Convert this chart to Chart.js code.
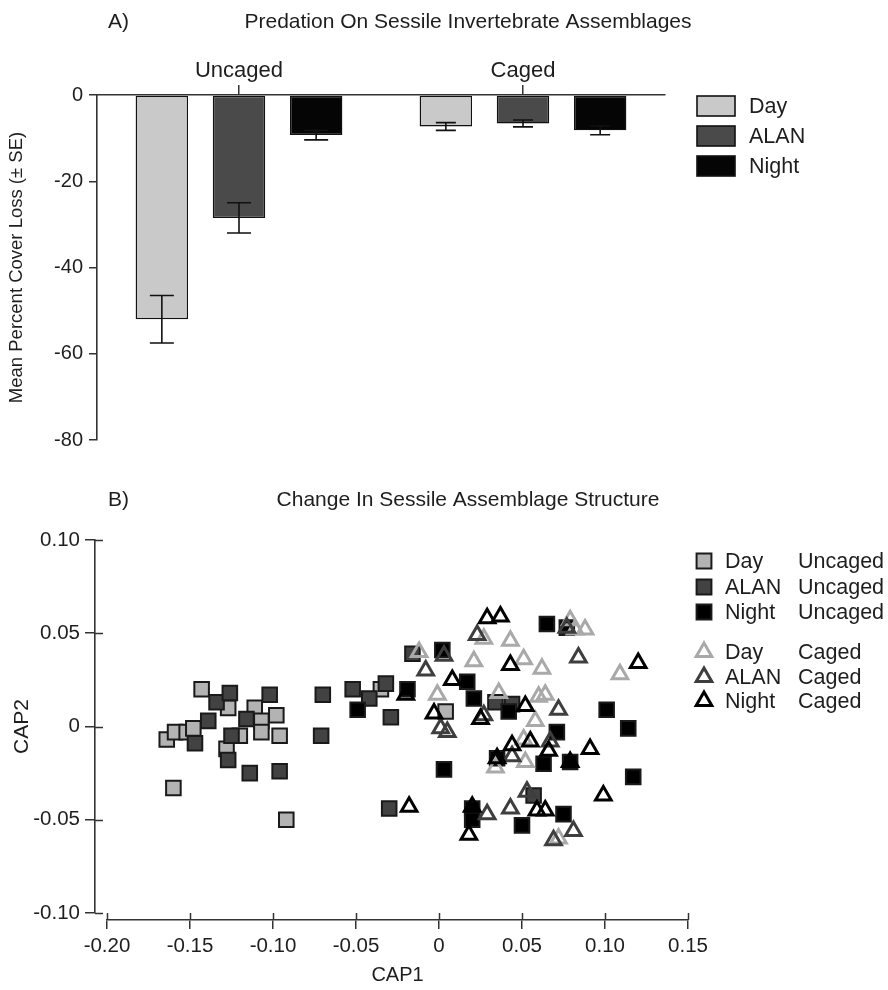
<!DOCTYPE html>
<html>
<head>
<meta charset="utf-8">
<script src="https://cdn.jsdelivr.net/npm/chart.js@4"></script>
<style>
  html, body { margin: 0; padding: 0; background: #fff; }
  #wrap { position: relative; width: 888px; height: 990px; }
  canvas { position: absolute; left: 0; }
  #predation { top: 0; }
  #structure { top: 480px; }
</style>
</head>
<body>
<div id="wrap">
  <canvas id="predation" width="888" height="480"></canvas>
  <canvas id="structure" width="888" height="510"></canvas>
</div>
<script>
// --- 1. Data ---
const treatments = ['Day', 'ALAN', 'Night'];
const cageGroups = ['Uncaged', 'Caged'];

// Panel A: mean percent cover loss and SE, [Uncaged, Caged]
const dayLoss = [-52.0, -7.3];
const alanLoss = [-28.5, -6.6];
const nightLoss = [-9.3, -8.2];
const daySE = [5.5, 0.9];
const alanSE = [3.5, 0.8];
const nightSE = [1.1, 1.0];
const lossTicks = [0, -20, -40, -60, -80];

// Panel B: CAP scores [CAP1, CAP2]
const dayUncaged = [
  [-0.143, 0.020], [-0.164, -0.007], [-0.159, -0.003], [-0.152, -0.003], [-0.148, -0.001],
  [-0.160, -0.033], [-0.127, 0.010], [-0.128, -0.012], [-0.111, 0.010], [-0.107, 0.003],
  [-0.107, -0.003], [-0.120, -0.005], [-0.098, 0.006], [-0.096, -0.005], [-0.092, -0.050],
  [-0.035, 0.020], [0.004, 0.008]
];
const alanUncaged = [
  [-0.134, 0.013], [-0.126, 0.018], [-0.139, 0.003], [-0.147, -0.009], [-0.127, -0.018],
  [-0.125, -0.005], [-0.116, 0.004], [-0.102, 0.017], [-0.114, -0.025], [-0.096, -0.024],
  [-0.070, 0.017], [-0.071, -0.005], [-0.052, 0.020], [-0.042, 0.015], [-0.032, 0.023],
  [-0.029, 0.005], [-0.030, -0.044], [-0.016, 0.039], [0.034, 0.013], [0.044, 0.012],
  [0.057, -0.037]
];
const nightUncaged = [
  [-0.049, 0.009], [-0.019, 0.020], [0.002, 0.041], [0.003, -0.023], [0.017, 0.024],
  [0.021, 0.015], [0.042, 0.008], [0.065, 0.055], [0.077, 0.053], [0.071, -0.003],
  [0.101, 0.009], [0.114, -0.001], [0.035, -0.017], [0.063, -0.020], [0.079, -0.019],
  [0.117, -0.027], [0.020, -0.044], [0.020, -0.050], [0.075, -0.047], [0.050, -0.053]
];
const dayCaged = [
  [-0.012, 0.040], [-0.001, 0.017], [0.027, 0.047], [0.043, 0.046], [0.021, 0.035],
  [0.051, 0.036], [0.062, 0.031], [0.079, 0.057], [0.082, 0.052], [0.088, 0.052],
  [0.109, 0.028], [0.036, 0.018], [0.060, 0.016], [0.064, 0.017], [0.058, 0.003],
  [0.051, -0.007], [0.034, -0.022], [0.052, -0.019], [0.072, -0.060]
];
const alanCaged = [
  [-0.008, 0.030], [0.003, 0.038], [0.023, 0.049], [0.084, 0.037], [0.001, -0.001],
  [0.005, -0.003], [0.027, 0.006], [0.072, 0.009], [0.067, -0.008], [0.044, -0.016],
  [0.077, 0.053], [0.053, -0.035], [0.043, -0.044], [0.029, -0.047], [0.069, -0.061],
  [0.081, -0.056]
];
const nightCaged = [
  [-0.018, -0.043], [-0.020, 0.017], [-0.003, 0.007], [0.029, 0.058], [0.037, 0.059],
  [0.043, 0.033], [0.008, 0.025], [0.025, 0.004], [0.052, 0.011], [0.120, 0.034],
  [0.044, -0.010], [0.055, -0.008], [0.066, -0.013], [0.091, -0.012], [0.035, -0.017],
  [0.079, -0.019], [0.099, -0.037], [0.020, -0.043], [0.018, -0.058], [0.059, -0.045],
  [0.064, -0.045]
];
const cap1Ticks = [-0.20, -0.15, -0.10, -0.05, 0, 0.05, 0.10, 0.15];
const cap2Ticks = [-0.10, -0.05, 0, 0.05, 0.10];

// --- 2. Shared style ---
const FONT = "'Liberation Sans', Arial, Helvetica, sans-serif";
const INK = '#1e1e1e';
const AXIS = '#333';
const greys = { Day: '#c9c9c9', ALAN: '#4a4a4a', Night: '#050505' };
const scatterFill = { Day: '#b3b3b3', ALAN: '#424242', Night: '#000' };
const triStroke = { Day: '#a9a9a9', ALAN: '#3e3e3e', Night: '#000' };

Chart.defaults.font.family = FONT;
Chart.defaults.color = INK;

const capLabel = v => (Math.abs(v) < 1e-9 ? '0' : v.toFixed(2));

// --- 3. Plugins ---
function panelHeading(letter, title, y) {
  return {
    id: 'panelHeading',
    afterDraw(chart) {
      const ctx = chart.ctx;
      ctx.save();
      ctx.fillStyle = INK;
      ctx.font = `21px ${FONT}`;
      ctx.textBaseline = 'middle';
      ctx.textAlign = 'left';
      ctx.fillText(letter, 108, y);
      ctx.textAlign = 'center';
      ctx.fillText(title, 468, y);
      ctx.restore();
    }
  };
}

const seByTreatment = [daySE, alanSE, nightSE];

const errorBars = {
  id: 'errorBars',
  afterDatasetsDraw(chart) {
    const { ctx } = chart;
    const yScale = chart.scales.y;
    ctx.save();
    ctx.strokeStyle = '#111';
    ctx.lineWidth = 1.6;
    chart.data.datasets.forEach((ds, i) => {
      chart.getDatasetMeta(i).data.forEach((bar, j) => {
        const v = ds.data[j];
        const se = seByTreatment[i][j];
        const top = yScale.getPixelForValue(v + se);
        const bottom = yScale.getPixelForValue(v - se);
        const half = j === 0 ? 12 : 10;
        ctx.beginPath();
        ctx.moveTo(bar.x, top); ctx.lineTo(bar.x, bottom);
        ctx.moveTo(bar.x - half, top); ctx.lineTo(bar.x + half, top);
        ctx.moveTo(bar.x - half, bottom); ctx.lineTo(bar.x + half, bottom);
        ctx.stroke();
      });
    });
    ctx.restore();
  }
};

const boxLegend = {
  id: 'boxLegend',
  afterDraw(chart) {
    const ctx = chart.ctx;
    ctx.save();
    ctx.font = `21.5px ${FONT}`;
    ctx.textBaseline = 'middle';
    ctx.textAlign = 'left';
    chart.data.datasets.forEach((ds, i) => {
      const top = 96 + i * 30;
      ctx.fillStyle = ds.backgroundColor;
      ctx.fillRect(697, top, 38, 20);
      ctx.strokeStyle = '#111';
      ctx.lineWidth = 1.6;
      ctx.strokeRect(697, top, 38, 20);
      ctx.fillStyle = INK;
      ctx.fillText(ds.label, 749, top + 11);
    });
    ctx.restore();
  }
};

const symbolLegend = {
  id: 'symbolLegend',
  afterDraw(chart) {
    const ctx = chart.ctx;
    const rows = [81, 107, 132, 172, 197, 221];
    ctx.save();
    ctx.font = `21.5px ${FONT}`;
    ctx.textBaseline = 'middle';
    ctx.textAlign = 'left';
    chart.data.datasets.forEach((ds, i) => {
      const y = rows[i];
      ctx.fillStyle = ds.backgroundColor;
      ctx.strokeStyle = ds.borderColor;
      ctx.lineWidth = ds.borderWidth;
      Chart.helpers.drawPoint(ctx, {
        pointStyle: ds.pointStyle,
        radius: ds.pointStyle === 'rect' ? 10.5 : 9,
        rotation: 0,
        borderWidth: ds.borderWidth
      }, 704, y);
      ctx.fillStyle = INK;
      ctx.fillText(ds.treatment, 725, y + 1);
      ctx.fillText(ds.cage, 798, y + 1);
    });
    ctx.restore();
  }
};

// offsets the axes away from the plotting area, as in the original figure
const detachedAxes = {
  id: 'detachedAxes',
  afterLayout(chart) {
    const { x, y } = chart.scales;
    y.left -= 12; y.right -= 12;
    x.top += 7; x.bottom += 7;
  },
  // short tick stubs on the inner side of each axis line
  afterDraw(chart) {
    const { ctx } = chart;
    const { x, y } = chart.scales;
    ctx.save();
    ctx.strokeStyle = AXIS;
    ctx.lineWidth = 1.5;
    ctx.beginPath();
    x.ticks.forEach(t => {
      const px = Math.round(x.getPixelForValue(t.value)) + 0.5;
      ctx.moveTo(px, x.top); ctx.lineTo(px, x.top - 7);
    });
    y.ticks.forEach(t => {
      const py = Math.round(y.getPixelForValue(t.value)) + 0.5;
      ctx.moveTo(y.right, py); ctx.lineTo(y.right + 8, py);
    });
    ctx.stroke();
    ctx.restore();
  }
};

// --- 4. Panel A: bar chart ---
const barSeries = [dayLoss, alanLoss, nightLoss];

new Chart(document.getElementById('predation'), {
  type: 'bar',
  data: {
    labels: cageGroups,
    datasets: treatments.map((t, i) => ({
      label: t,
      data: barSeries[i],
      backgroundColor: greys[t],
      borderColor: '#111',
      borderWidth: 1.4,
      borderSkipped: false,
      barPercentage: 0.68,
      categoryPercentage: 0.815
    }))
  },
  options: {
    responsive: false,
    animation: false,
    layout: { padding: { top: 60, right: 223, bottom: 40, left: 0 } },
    plugins: { legend: { display: false }, tooltip: { enabled: false } },
    scales: {
      x: {
        position: 'top',
        afterFit: s => { s.height = 35; },
        grid: { offset: false, drawOnChartArea: false, tickLength: 10, color: AXIS, lineWidth: 1.5 },
        border: { color: AXIS, width: 1.6 },
        ticks: { font: { size: 22 }, color: INK, padding: 1 }
      },
      y: {
        min: -80,
        max: 0,
        afterFit: s => { s.width = 97; },
        afterBuildTicks: s => { s.ticks = lossTicks.map(v => ({ value: v })); },
        grid: { drawOnChartArea: false, tickLength: 8, color: AXIS, lineWidth: 1.5 },
        border: { color: AXIS, width: 1.6 },
        ticks: { font: { size: 20 }, color: INK, padding: 6 },
        title: {
          display: true,
          text: 'Mean Percent Cover Loss (± SE)',
          font: { size: 18.5 },
          color: INK,
          padding: { top: 6, bottom: 0 }
        }
      }
    }
  },
  plugins: [errorBars, boxLegend, panelHeading('A)', 'Predation On Sessile Invertebrate Assemblages', 22)]
});

// --- 5. Panel B: CAP ordination ---
const scatterGroups = [
  { treatment: 'Day', cage: 'Uncaged', points: dayUncaged, order: 6 },
  { treatment: 'ALAN', cage: 'Uncaged', points: alanUncaged, order: 5 },
  { treatment: 'Night', cage: 'Uncaged', points: nightUncaged, order: 4 },
  { treatment: 'Day', cage: 'Caged', points: dayCaged, order: 3 },
  { treatment: 'ALAN', cage: 'Caged', points: alanCaged, order: 2 },
  { treatment: 'Night', cage: 'Caged', points: nightCaged, order: 1 }
];

new Chart(document.getElementById('structure'), {
  type: 'scatter',
  data: {
    datasets: scatterGroups.map(g => {
      const uncaged = g.cage === 'Uncaged';
      return {
        label: `${g.treatment} ${g.cage}`,
        treatment: g.treatment,
        cage: g.cage,
        order: g.order,
        data: g.points.map(([x, y]) => ({ x, y })),
        pointStyle: uncaged ? 'rect' : 'triangle',
        pointRadius: uncaged ? 10.3 : 9,
        pointHoverRadius: uncaged ? 10.3 : 9,
        backgroundColor: uncaged ? scatterFill[g.treatment] : 'rgba(0,0,0,0)',
        borderColor: uncaged ? '#1a1a1a' : triStroke[g.treatment],
        borderWidth: uncaged ? 2 : 3
      };
    })
  },
  options: {
    responsive: false,
    animation: false,
    layout: { padding: { top: 60, right: 200, bottom: 7, left: 0 } },
    plugins: { legend: { display: false }, tooltip: { enabled: false } },
    scales: {
      x: {
        type: 'linear',
        min: -0.20,
        max: 0.15,
        afterFit: s => { s.height = 70; },
        afterBuildTicks: s => { s.ticks = cap1Ticks.map(v => ({ value: v })); },
        grid: { drawOnChartArea: false, tickLength: 9, color: AXIS, lineWidth: 1.5 },
        border: { color: AXIS, width: 1.6 },
        ticks: { font: { size: 20.5 }, color: INK, padding: 5, callback: capLabel, maxRotation: 0 },
        title: { display: true, text: 'CAP1', font: { size: 20 }, color: INK, padding: { top: 0, bottom: 3 } }
      },
      y: {
        type: 'linear',
        min: -0.10,
        max: 0.10,
        afterFit: s => { s.width = 107; },
        afterBuildTicks: s => { s.ticks = cap2Ticks.map(v => ({ value: v })); },
        grid: { drawOnChartArea: false, tickLength: 10, color: AXIS, lineWidth: 1.5 },
        border: { color: AXIS, width: 1.6 },
        ticks: { font: { size: 20.5 }, color: INK, padding: 5, callback: capLabel },
        title: { display: true, text: 'CAP2', font: { size: 21 }, color: INK, padding: { top: 22, bottom: 0 } }
      }
    }
  },
  plugins: [detachedAxes, symbolLegend, panelHeading('B)', 'Change In Sessile Assemblage Structure', 20)]
});
</script>
</body>
</html>
